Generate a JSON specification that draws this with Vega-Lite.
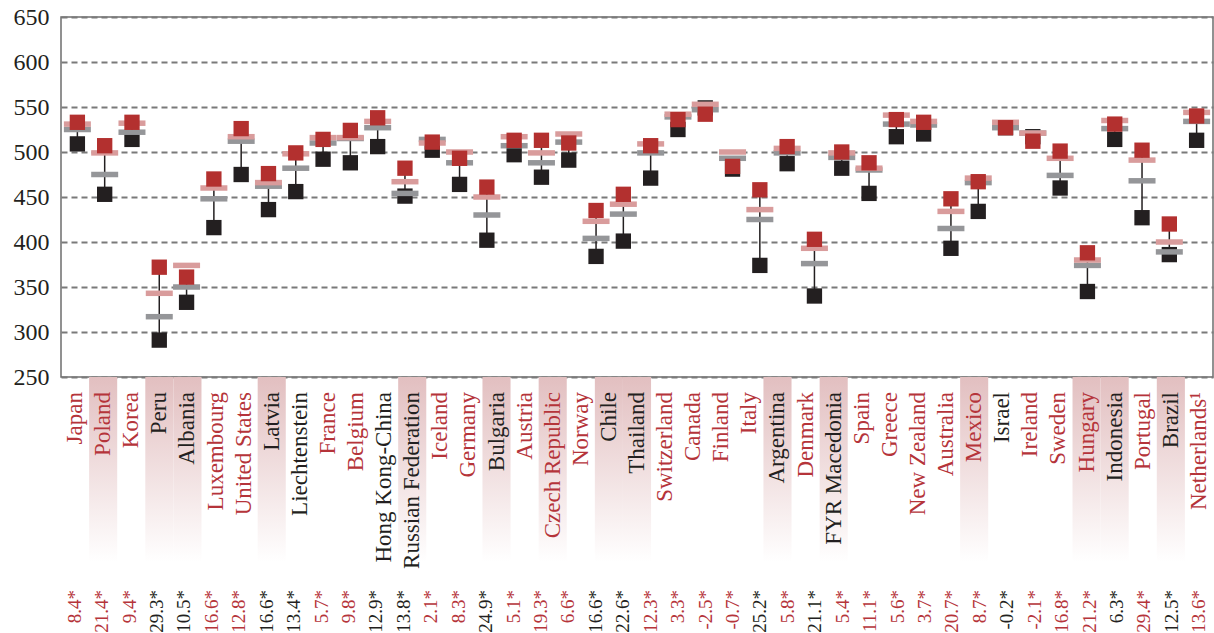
{
 "$schema": "https://vega.github.io/schema/vega-lite/v6.json",
 "padding": {"left": 12, "top": 4, "right": 2, "bottom": 0},
 "autosize": {"type": "pad"},
 "bounds": "flush",
 "spacing": 0,
 "config": {
  "view": {"stroke": null},
  "font": "Liberation Serif",
  "axisY": {"labelFont": "Liberation Serif", "labelFontSize": 24, "labelColor": "#231f20", "labelPadding": 12}
 },
 "datasets": {
  "m": [
   {"i": 0, "k": 509, "r": 533, "g": 525, "p": 531, "n": "8.4*", "nc": "o"},
   {"i": 1, "k": 453, "r": 507, "g": 475, "p": 499, "n": "21.4*", "nc": "o"},
   {"i": 2, "k": 514, "r": 533, "g": 522, "p": 532, "n": "9.4*", "nc": "o"},
   {"i": 3, "k": 291, "r": 372, "g": 317, "p": 343, "n": "29.3*", "nc": "p"},
   {"i": 4, "k": 333, "r": 361, "g": 350, "p": 374, "n": "10.5*", "nc": "p"},
   {"i": 5, "k": 416, "r": 470, "g": 448, "p": 460, "n": "16.6*", "nc": "o"},
   {"i": 6, "k": 475, "r": 526, "g": 512, "p": 517, "n": "12.8*", "nc": "o"},
   {"i": 7, "k": 436, "r": 476, "g": 462, "p": 466, "n": "16.6*", "nc": "p"},
   {"i": 8, "k": 456, "r": 499, "g": 482, "p": 498, "n": "13.4*", "nc": "p"},
   {"i": 9, "k": 492, "r": 514, "g": 510, "p": 516, "n": "5.7*", "nc": "o"},
   {"i": 10, "k": 488, "r": 524, "g": 515, "p": 516, "n": "9.8*", "nc": "o"},
   {"i": 11, "k": 506, "r": 538, "g": 527, "p": 534, "n": "12.9*", "nc": "p"},
   {"i": 12, "k": 451, "r": 482, "g": 454, "p": 467, "n": "13.8*", "nc": "p"},
   {"i": 13, "k": 502, "r": 511, "g": 514, "p": 510, "n": "2.1*", "nc": "o"},
   {"i": 14, "k": 464, "r": 493, "g": 488, "p": 500, "n": "8.3*", "nc": "o"},
   {"i": 15, "k": 402, "r": 461, "g": 430, "p": 450, "n": "24.9*", "nc": "p"},
   {"i": 16, "k": 497, "r": 513, "g": 507, "p": 517, "n": "5.1*", "nc": "o"},
   {"i": 17, "k": 472, "r": 513, "g": 488, "p": 499, "n": "19.3*", "nc": "o"},
   {"i": 18, "k": 491, "r": 510, "g": 511, "p": 520, "n": "6.6*", "nc": "o"},
   {"i": 19, "k": 384, "r": 435, "g": 404, "p": 423, "n": "16.6*", "nc": "p"},
   {"i": 20, "k": 401, "r": 453, "g": 431, "p": 442, "n": "22.6*", "nc": "p"},
   {"i": 21, "k": 471, "r": 507, "g": 499, "p": 509, "n": "12.3*", "nc": "o"},
   {"i": 22, "k": 525, "r": 536, "g": 539, "p": 542, "n": "3.3*", "nc": "o"},
   {"i": 23, "k": 549, "r": 542, "g": 547, "p": 553, "n": "-2.5*", "nc": "o"},
   {"i": 24, "k": 481, "r": 484, "g": 493, "p": 500, "n": "-0.7*", "nc": "o"},
   {"i": 25, "k": 374, "r": 458, "g": 425, "p": 436, "n": "25.2*", "nc": "p"},
   {"i": 26, "k": 487, "r": 506, "g": 499, "p": 504, "n": "5.8*", "nc": "o"},
   {"i": 27, "k": 340, "r": 403, "g": 376, "p": 393, "n": "21.1*", "nc": "p"},
   {"i": 28, "k": 482, "r": 500, "g": 494, "p": 499, "n": "5.4*", "nc": "o"},
   {"i": 29, "k": 454, "r": 488, "g": 480, "p": 482, "n": "11.1*", "nc": "o"},
   {"i": 30, "k": 517, "r": 536, "g": 531, "p": 541, "n": "5.6*", "nc": "o"},
   {"i": 31, "k": 520, "r": 533, "g": 530, "p": 534, "n": "3.7*", "nc": "o"},
   {"i": 32, "k": 393, "r": 448, "g": 415, "p": 434, "n": "20.7*", "nc": "o"},
   {"i": 33, "k": 434, "r": 467, "g": 466, "p": 471, "n": "8.7*", "nc": "o"},
   {"i": 34, "k": 527, "r": 527, "g": 527, "p": 533, "n": "-0.2*", "nc": "p"},
   {"i": 35, "k": 517, "r": 512, "g": 521, "p": 521, "n": "-2.1*", "nc": "o"},
   {"i": 36, "k": 460, "r": 501, "g": 474, "p": 493, "n": "16.8*", "nc": "o"},
   {"i": 37, "k": 345, "r": 388, "g": 374, "p": 380, "n": "21.2*", "nc": "o"},
   {"i": 38, "k": 514, "r": 531, "g": 526, "p": 535, "n": "6.3*", "nc": "p"},
   {"i": 39, "k": 427, "r": 502, "g": 468, "p": 491, "n": "29.4*", "nc": "o"},
   {"i": 40, "k": 386, "r": 420, "g": 389, "p": 400, "n": "12.5*", "nc": "p"},
   {"i": 41, "k": 513, "r": 540, "g": 534, "p": 544, "n": "13.6*", "nc": "o"}
  ],
  "lab": [
   {"li": 0, "c": "Japan", "t": "o", "s": false},
   {"li": 1, "c": "Poland", "t": "o", "s": true},
   {"li": 2, "c": "Korea", "t": "o", "s": false},
   {"li": 3, "c": "Peru", "t": "p", "s": true},
   {"li": 4, "c": "Albania", "t": "p", "s": true},
   {"li": 5, "c": "Luxembourg", "t": "o", "s": false},
   {"li": 6, "c": "United States", "t": "o", "s": false},
   {"li": 7, "c": "Latvia", "t": "p", "s": true},
   {"li": 8, "c": "Liechtenstein", "t": "p", "s": false},
   {"li": 9, "c": "France", "t": "o", "s": false},
   {"li": 10, "c": "Belgium", "t": "o", "s": false},
   {"li": 11, "c": "Hong Kong-China", "t": "p", "s": false},
   {"li": 12, "c": "Russian Federation", "t": "p", "s": true},
   {"li": 13, "c": "Iceland", "t": "o", "s": false},
   {"li": 14, "c": "Germany", "t": "o", "s": false},
   {"li": 15, "c": "Bulgaria", "t": "p", "s": true},
   {"li": 16, "c": "Austria", "t": "o", "s": false},
   {"li": 17, "c": "Czech Republic", "t": "o", "s": true},
   {"li": 18, "c": "Norway", "t": "o", "s": false},
   {"li": 19, "c": "Chile", "t": "p", "s": true},
   {"li": 20, "c": "Thailand", "t": "p", "s": true},
   {"li": 21, "c": "Switzerland", "t": "o", "s": false},
   {"li": 22, "c": "Canada", "t": "o", "s": false},
   {"li": 23, "c": "Finland", "t": "o", "s": false},
   {"li": 24, "c": "Italy", "t": "o", "s": false},
   {"li": 25, "c": "Argentina", "t": "p", "s": true},
   {"li": 26, "c": "Denmark", "t": "o", "s": false},
   {"li": 27, "c": "FYR Macedonia", "t": "p", "s": true},
   {"li": 28, "c": "Spain", "t": "o", "s": false},
   {"li": 29, "c": "Greece", "t": "o", "s": false},
   {"li": 30, "c": "New Zealand", "t": "o", "s": false},
   {"li": 31, "c": "Australia", "t": "o", "s": false},
   {"li": 32, "c": "Mexico", "t": "o", "s": true},
   {"li": 33, "c": "Israel", "t": "p", "s": false},
   {"li": 34, "c": "Ireland", "t": "o", "s": false},
   {"li": 35, "c": "Sweden", "t": "o", "s": false},
   {"li": 36, "c": "Hungary", "t": "o", "s": true},
   {"li": 37, "c": "Indonesia", "t": "p", "s": true},
   {"li": 38, "c": "Portugal", "t": "o", "s": false},
   {"li": 39, "c": "Brazil", "t": "p", "s": true},
   {"li": 40, "c": "Netherlands¹", "t": "o", "s": false}
  ]
 },
 "vconcat": [
  {
   "width": 1152,
   "height": 360,
   "data": {"name": "m"},
   "view": {"stroke": "#6d6d6d", "strokeWidth": 1.5},
   "encoding": {
    "x": {"field": "i", "type": "ordinal", "scale": {"paddingInner": 0, "paddingOuter": 0.1}, "axis": null}
   },
   "layer": [
    {
     "mark": {"type": "rule", "color": "#231f20", "strokeWidth": 1.5},
     "encoding": {
      "y": {"field": "k", "type": "quantitative", "title": null,
            "scale": {"domain": [250, 650], "nice": false, "zero": false},
            "axis": {"values": [250, 300, 350, 400, 450, 500, 550, 600, 650], "grid": true, "gridDash": [6, 4], "gridColor": "#7a7a7a", "gridWidth": 1.8, "domain": false, "ticks": false, "labelFont": "Liberation Serif", "labelFontSize": 24, "labelColor": "#231f20", "labelPadding": 12, "title": null}},
      "y2": {"field": "r"}
     }
    },
    {
     "mark": {"type": "point", "shape": "square", "filled": true, "size": 235, "color": "#231f20", "opacity": 1},
     "encoding": {"y": {"field": "k", "type": "quantitative", "title": null}}
    },
    {
     "mark": {"type": "tick", "color": "#959699", "size": 27, "thickness": 5.5, "opacity": 1},
     "encoding": {"y": {"field": "g", "type": "quantitative", "title": null}}
    },
    {
     "mark": {"type": "tick", "color": "#d99c9c", "size": 27, "thickness": 5.5, "opacity": 1},
     "encoding": {"y": {"field": "p", "type": "quantitative", "title": null}}
    },
    {
     "mark": {"type": "point", "shape": "square", "filled": true, "size": 235, "color": "#b3302f", "opacity": 1},
     "encoding": {"y": {"field": "r", "type": "quantitative", "title": null}}
    }
   ]
  },
  {
   "width": 1152,
   "height": 185,
   "data": {"name": "lab"},
   "encoding": {
    "x": {"field": "li", "type": "ordinal", "scale": {"paddingInner": 0, "paddingOuter": 0}, "axis": null}
   },
   "layer": [
    {
     "transform": [{"filter": "datum.s"}],
     "mark": {"type": "rect", "color": {"gradient": "linear", "x1": 0, "y1": 0, "x2": 0, "y2": 1, "stops": [{"offset": 0, "color": "#e2bfc0"}, {"offset": 1, "color": "#ffffff"}]}}
    },
    {
     "mark": {"type": "text", "angle": 270, "align": "right", "baseline": "middle", "y": 15, "fontSize": 23, "font": "Liberation Serif"},
     "encoding": {
      "text": {"field": "c"},
      "color": {"field": "t", "type": "nominal", "scale": {"domain": ["o", "p"], "range": ["#b5343a", "#231f20"]}, "legend": null}
     }
    }
   ]
  },
  {
   "width": 1152,
   "height": 73,
   "data": {"name": "m"},
   "mark": {"type": "text", "angle": 270, "align": "right", "baseline": "middle", "y": 28, "fontSize": 19, "font": "Liberation Serif"},
   "encoding": {
    "x": {"field": "i", "type": "ordinal", "scale": {"paddingInner": 0, "paddingOuter": 0.1}, "axis": null},
    "text": {"field": "n"},
    "color": {"field": "nc", "type": "nominal", "scale": {"domain": ["o", "p"], "range": ["#b5343a", "#231f20"]}, "legend": null}
   }
  }
 ]
}
